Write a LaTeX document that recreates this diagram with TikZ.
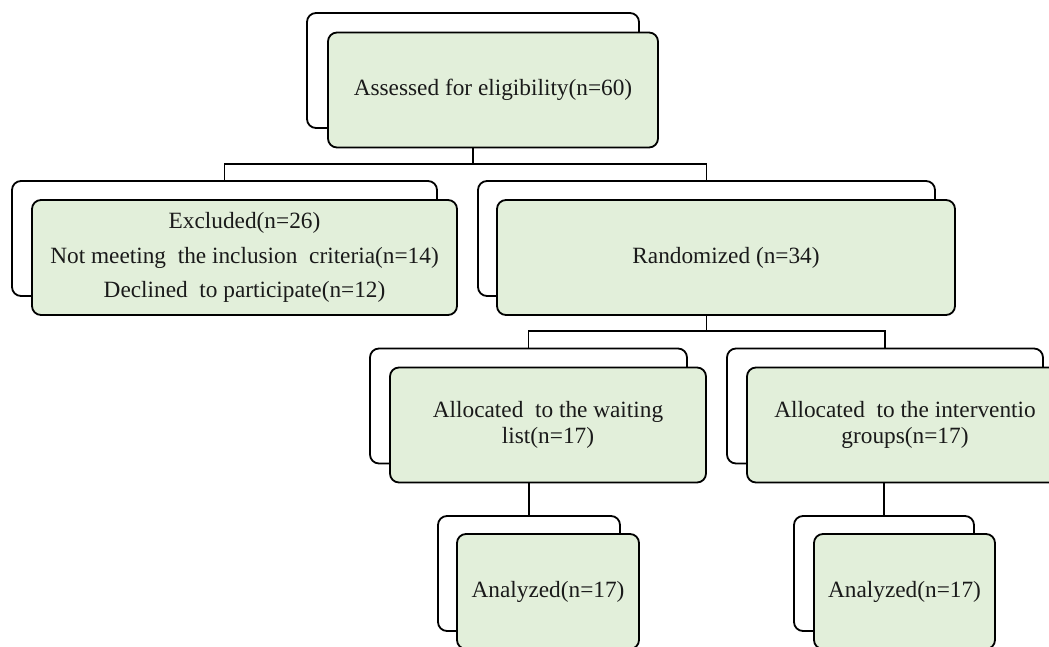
\documentclass[tikz,border=0pt]{standalone}
\usepackage{fontspec}
\setmainfont{Liberation Serif}
\definecolor{boxgreen}{HTML}{E2EFDA}
\definecolor{textgray}{HTML}{1A1A1A}
\begin{document}
\begin{tikzpicture}[x=1pt,y=-1pt,line width=1.8pt,
  back/.style={draw, fill=white, rounded corners=9pt, minimum height=115pt, inner sep=0pt},
  front/.style={draw, fill=boxgreen, rounded corners=9pt, minimum height=115pt, inner sep=0pt,
    align=center, text=textgray, font=\fontsize{23.3}{25.6}\selectfont},
  conn/.style={draw, line width=1.8pt}]
\useasboundingbox (0,0) rectangle (1049,647);
\clip (0,0) rectangle (1049,647);
% back boxes
\node[back, minimum width=332pt] (aB) at (473,70.5) {};
\node[back, minimum width=425pt] (exB) at (224.5,238.5) {};
\node[back, minimum width=457pt] (rB) at (706.5,238.5) {};
\node[back, minimum width=317pt] (wB) at (528.5,406) {};
\node[back, minimum width=316pt] (iB) at (885,406) {};
\node[back, minimum width=182pt] (waB) at (529,573.5) {};
\node[back, minimum width=180pt] (iaB) at (884,573.5) {};
% front boxes
\node[front, minimum width=330pt] (aF) at (493,90) {Assessed for eligibility(n=60)};
\node[front, minimum width=425pt, font=\fontsize{23.3}{34.5}\selectfont] (exF) at (244.5,257.5)
  {Excluded(n=26)\\Not meeting\ \ the inclusion\ \ criteria(n=14)\\Declined\ \ to participate(n=12)};
\node[front, minimum width=458pt] (rF) at (726,257.5) {Randomized (n=34)};
\node[front, minimum width=316pt] (wF) at (548,425) {Allocated\ \ to the waiting\\list(n=17)};
\node[front, minimum width=316pt] (iF) at (905,425) {Allocated\ \ to the interventio\\groups(n=17)};
\node[front, minimum width=182pt] (waF) at (548,591.5) {Analyzed(n=17)};
\node[front, minimum width=181pt] (iaF) at (904.5,591.5) {Analyzed(n=17)};
% connectors
\coordinate (j1) at (473,164);
\coordinate (j2) at (706.5,331);
\draw[conn] (aB.south |- aF.south) -- (j1);
\draw[conn] (exB.north) |- (j1) -| (rB.north);
\draw[conn] (rB.south |- rF.south) -- (j2);
\draw[conn] (wB.north) |- (j2) -| (iB.north);
\draw[conn] (waB.north |- wF.south) -- (waB.north);
\draw[conn] (iaB.north |- iF.south) -- (iaB.north);
\end{tikzpicture}
\end{document}
